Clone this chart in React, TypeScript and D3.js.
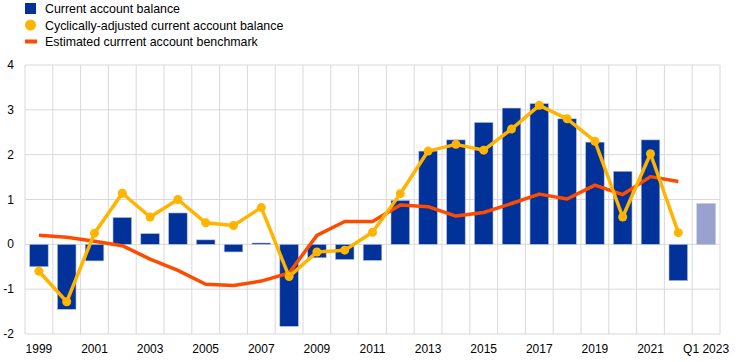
import { useEffect, useRef } from 'react';
import * as d3 from 'd3';

const categories = ['1999', '2000', '2001', '2002', '2003', '2004', '2005', '2006', '2007', '2008', '2009', '2010',
  '2011', '2012', '2013', '2014', '2015', '2016', '2017', '2018', '2019', '2020', '2021', '2022', 'Q1 2023'];

const tickLabels = ['1999', '2001', '2003', '2005', '2007', '2009', '2011', '2013', '2015', '2017', '2019', '2021', 'Q1 2023'];

const currentAccount = [-0.5, -1.45, -0.37, 0.6, 0.24, 0.7, 0.1, -0.17, 0.03, -1.83, -0.3, -0.34,
  -0.36, 0.98, 2.08, 2.33, 2.72, 3.04, 3.14, 2.8, 2.28, 1.63, 2.33, -0.81, 0.91];

const cyclicallyAdjusted = [-0.6, -1.28, 0.25, 1.14, 0.61, 1.0, 0.48, 0.42, 0.82, -0.72, -0.17, -0.13,
  0.27, 1.13, 2.08, 2.23, 2.1, 2.57, 3.1, 2.8, 2.3, 0.61, 2.02, 0.26];

const benchmark = [0.2, 0.16, 0.07, -0.03, -0.33, -0.58, -0.89, -0.92, -0.82, -0.64, 0.2, 0.51,
  0.51, 0.88, 0.84, 0.63, 0.71, 0.91, 1.12, 1.01, 1.32, 1.11, 1.51, 1.4];

const yTicks = [-2, -1, 0, 1, 2, 3, 4];

const legendItems = [
  { label: 'Current account balance', type: 'bar' },
  { label: 'Cyclically-adjusted current account balance', type: 'dot' },
  { label: 'Estimated currrent account benchmark', type: 'line' },
];

const BLUE = '#003299';
const LIGHT_BLUE = '#98A1D0';
const YELLOW = '#FFB400';
const ORANGE = '#FF4B00';
const GRID = '#d9d9d9';
const FONT = "'Liberation Sans', Arial, sans-serif";

function App() {
  const svgRef = useRef<SVGSVGElement | null>(null);

  useEffect(() => {
    const width = 744;
    const height = 362;
    const margin = { left: 25, right: 24, top: 65, bottom: 28 };

    const svg = d3.select(svgRef.current);
    svg.selectAll('*').remove();
    svg.attr('width', width).attr('height', height);

    const x = d3.scaleBand<string>()
      .domain(categories)
      .range([margin.left, width - margin.right])
      .paddingInner(0.33)
      .paddingOuter(0.165);

    // band boundaries for vertical gridlines
    const step = (width - margin.left - margin.right) / categories.length;
    const center = (c: string) => (x(c) as number) + x.bandwidth() / 2;

    const y = d3.scaleLinear()
      .domain([-2, 4])
      .range([height - margin.bottom, margin.top]);

    // Horizontal gridlines
    svg.append('g')
      .selectAll('line')
      .data(yTicks)
      .enter()
      .append('line')
      .attr('x1', margin.left)
      .attr('x2', width - margin.right)
      .attr('y1', d => y(d))
      .attr('y2', d => y(d))
      .attr('stroke', GRID)
      .attr('stroke-width', 1);

    // Vertical gridlines
    svg.append('g')
      .selectAll('line')
      .data(d3.range(categories.length + 1))
      .enter()
      .append('line')
      .attr('x1', i => margin.left + i * step)
      .attr('x2', i => margin.left + i * step)
      .attr('y1', y(4))
      .attr('y2', y(-2))
      .attr('stroke', GRID)
      .attr('stroke-width', 1);

    // Y tick labels
    svg.append('g')
      .selectAll('text')
      .data(yTicks)
      .enter()
      .append('text')
      .attr('x', 14)
      .attr('y', d => y(d) + 4)
      .attr('text-anchor', 'end')
      .attr('font-size', '12px')
      .attr('font-family', FONT)
      .attr('fill', '#000')
      .text(d => d);

    // X tick labels
    svg.append('g')
      .selectAll('text')
      .data(tickLabels)
      .enter()
      .append('text')
      .attr('x', d => center(d))
      .attr('y', height - 9)
      .attr('text-anchor', 'middle')
      .attr('font-size', '12px')
      .attr('font-family', FONT)
      .attr('fill', '#000')
      .text(d => d);

    // Bars
    svg.append('g')
      .selectAll('rect')
      .data(currentAccount)
      .enter()
      .append('rect')
      .attr('x', (_, i) => x(categories[i]) as number)
      .attr('width', x.bandwidth())
      .attr('y', d => y(Math.max(0, d)))
      .attr('height', d => Math.abs(y(d) - y(0)))
      .attr('fill', (_, i) => i === categories.length - 1 ? LIGHT_BLUE : BLUE)
      .attr('stroke', '#b9c3e0')
      .attr('stroke-width', 0.6);

    // Benchmark line
    const line = d3.line<number>()
      .x((_, i) => center(categories[i]))
      .y(d => y(d));

    svg.append('path')
      .datum(benchmark)
      .attr('d', line)
      .attr('fill', 'none')
      .attr('stroke', ORANGE)
      .attr('stroke-width', 3.5)
      .attr('stroke-linejoin', 'round');

    // Cyclically-adjusted line with markers
    svg.append('path')
      .datum(cyclicallyAdjusted)
      .attr('d', line)
      .attr('fill', 'none')
      .attr('stroke', YELLOW)
      .attr('stroke-width', 3.5)
      .attr('stroke-linejoin', 'round');

    svg.append('g')
      .selectAll('circle')
      .data(cyclicallyAdjusted)
      .enter()
      .append('circle')
      .attr('cx', (_, i) => center(categories[i]))
      .attr('cy', d => y(d))
      .attr('r', 4.5)
      .attr('fill', YELLOW);

    // Legend
    const legend = svg.append('g');
    legendItems.forEach((item, i) => {
      const cy = 8.5 + i * 16.5;
      if (item.type === 'bar') {
        legend.append('rect')
          .attr('x', 25).attr('y', cy - 5.5)
          .attr('width', 11).attr('height', 11)
          .attr('fill', BLUE);
      } else if (item.type === 'dot') {
        legend.append('circle')
          .attr('cx', 30.5).attr('cy', cy)
          .attr('r', 5.5)
          .attr('fill', YELLOW);
      } else {
        legend.append('line')
          .attr('x1', 25).attr('x2', 37)
          .attr('y1', cy).attr('y2', cy)
          .attr('stroke', ORANGE)
          .attr('stroke-width', 4);
      }
      legend.append('text')
        .attr('x', 45)
        .attr('y', cy + 4.5)
        .attr('font-size', '12.4px')
        .attr('font-family', FONT)
        .attr('fill', '#000')
        .text(item.label);
    });
  }, []);

  return (
    <svg ref={svgRef} style={{ position: 'absolute', left: 0, top: 0, display: 'block' }}></svg>
  );
}

export default App;
